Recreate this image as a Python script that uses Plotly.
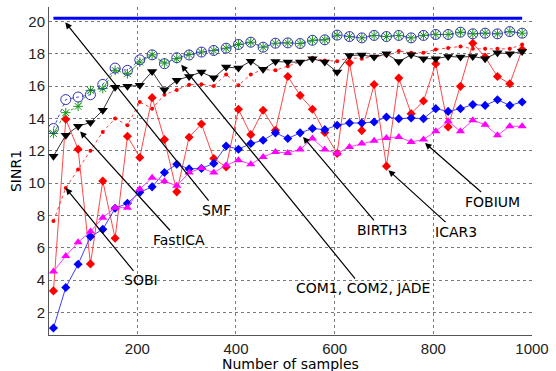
import plotly.graph_objects as go

# ---- data ----
samples = [30 + 25 * k for k in range(39)]

smf = [20.2] * 39

com_circles = [13.38, 15.17, 15.33, 15.47, 16.11, 17.12, 16.98, 17.63, 17.94, 17.39,
               17.76, 17.93, 18.11, 18.21, 18.35, 18.58, 18.72, 18.41, 18.66, 18.68,
               18.64, 18.84, 18.87, 19.16, 19.07, 18.99, 19.14, 19.07, 19.14, 18.99,
               19.14, 19.20, 19.20, 19.34, 19.24, 19.28, 19.24, 19.38, 19.28]

com_stars = [13.07, 14.36, 14.75, 15.74, 15.85, 16.98, 16.77, 17.49, 17.94, 17.43,
             17.70, 17.96, 18.11, 18.21, 18.35, 18.58, 18.72, 18.41, 18.66, 18.68,
             18.64, 18.84, 18.87, 19.16, 19.07, 18.99, 19.14, 19.07, 19.14, 18.99,
             19.14, 19.20, 19.20, 19.34, 19.24, 19.28, 19.24, 19.38, 19.28]

fastica = [11.67, 12.96, 13.52, 13.75, 14.51, 15.94, 15.99, 16.05, 16.91, 15.78,
           16.36, 16.60, 16.87, 16.52, 17.18, 17.12, 17.55, 17.04, 17.53, 17.49,
           17.49, 17.70, 17.49, 16.87, 17.90, 17.93, 17.80, 18.00, 17.53, 17.94,
           17.70, 17.70, 17.84, 17.80, 17.84, 17.70, 18.07, 18.00, 18.15]

sobi = [7.65, 9.70, 10.85, 12.00, 13.17, 14.00, 13.58, 15.02, 14.61, 15.47,
        15.77, 16.09, 16.12, 16.01, 16.73, 16.05, 16.73, 17.04, 16.98, 17.24,
        17.49, 17.76, 17.59, 17.55, 17.76, 17.70, 17.84, 17.90, 18.17, 18.07,
        18.07, 18.27, 18.37, 18.46, 18.31, 18.31, 18.31, 18.31, 18.58]

icar3 = [3.33, 13.95, 12.10, 5.00, 10.13, 6.59, 12.90, 11.59, 15.29, 12.70,
         9.46, 12.84, 13.66, 11.52, 11.00, 14.57, 13.00, 14.51, 13.27, 16.60,
         15.43, 14.57, 13.13, 11.83, 17.45, 13.25, 16.10, 11.05, 16.50, 14.30,
         15.08, 17.39, 13.48, 15.99, 18.66, 17.80, 16.60, 16.15, 18.27]

birth3 = [1.03, 3.54, 4.98, 6.69, 7.14, 8.44, 8.75, 9.43, 9.77, 10.66,
          11.17, 10.88, 10.91, 11.22, 12.30, 12.10, 12.45, 12.65, 13.11, 12.76,
          13.11, 13.38, 13.31, 13.58, 13.72, 13.72, 13.78, 14.09, 13.99, 14.03,
          13.99, 14.61, 14.44, 14.61, 14.86, 14.81, 15.16, 14.81, 15.02]

fobium = [4.53, 5.49, 6.34, 7.00, 7.86, 8.48, 8.48, 9.63, 10.33, 10.12,
          9.83, 10.65, 10.93, 10.65, 11.11, 11.42, 11.17, 11.62, 11.93, 11.87,
          12.08, 12.76, 12.08, 11.83, 12.24, 12.45, 12.62, 12.80, 12.86, 12.55,
          12.70, 13.21, 13.83, 13.21, 13.89, 13.62, 12.96, 13.52, 13.52]

x_ticks = [200, 400, 600, 800, 1000]
y_ticks = [2, 4, 6, 8, 10, 12, 14, 16, 18, 20]

# label text, label position, arrow head position (data units)
labels = [
    ("SMF", 360, 8.33, 54, 19.95),
    ("FastICA", 284, 6.48, 84, 13.2),
    ("SOBI", 208, 3.98, 55, 9.7),
    ("COM1, COM2, JADE", 657, 3.5, 289, 17.33),
    ("BIRTH3", 696, 7.1, 536, 12.86),
    ("ICAR3", 846, 7.0, 709, 10.8),
    ("FOBIUM", 919, 8.86, 783, 12.49),
]

fig = go.Figure()

fig.add_trace(go.Scatter(x=samples, y=sobi, mode="lines+markers",
                         line=dict(color="#ff4040", width=1, dash="dot"),
                         marker=dict(color="red", size=4, symbol="circle")))
fig.add_trace(go.Scatter(x=samples, y=icar3, mode="lines+markers",
                         line=dict(color="#ff4848", width=1),
                         marker=dict(color="red", size=7, symbol="diamond")))
fig.add_trace(go.Scatter(x=samples, y=birth3, mode="lines+markers",
                         line=dict(color="#4040ff", width=1),
                         marker=dict(color="blue", size=7, symbol="diamond")))
fig.add_trace(go.Scatter(x=samples, y=fobium, mode="lines+markers",
                         line=dict(color="#ff40ff", width=1),
                         marker=dict(color="magenta", size=8, symbol="triangle-up")))
fig.add_trace(go.Scatter(x=samples, y=fastica, mode="lines+markers",
                         line=dict(color="#333333", width=1),
                         marker=dict(color="black", size=9, symbol="triangle-down")))
fig.add_trace(go.Scatter(x=samples, y=com_stars, mode="lines+markers",
                         line=dict(color="#33aa33", width=1, dash="dashdot"),
                         marker=dict(color="#1a991a", size=8, symbol="asterisk-open",
                                     line=dict(width=1, color="#1a991a"))))
fig.add_trace(go.Scatter(x=samples, y=com_circles, mode="lines+markers",
                         line=dict(color="#5555cc", width=1, dash="dot"),
                         marker=dict(color="#3030b0", size=10, symbol="circle-open",
                                     line=dict(width=1))))
fig.add_trace(go.Scatter(x=samples, y=smf, mode="lines",
                         line=dict(color="#0000ff", width=3)))

for text, tx, ty, hx, hy in labels:
    fig.add_annotation(x=hx, y=hy, ax=tx, ay=ty, xref="x", yref="y",
                       axref="x", ayref="y", text=text, showarrow=True,
                       arrowhead=2, arrowsize=1.1, arrowwidth=1.2,
                       arrowcolor="black", standoff=0, startstandoff=0,
                       font=dict(family="DejaVu Sans", size=14, color="black"))

# axis titles
fig.add_annotation(x=0.5, y=-0.087, xref="paper", yref="paper", showarrow=False,
                   text="Number of samples", xanchor="center", yanchor="middle",
                   font=dict(family="DejaVu Sans", size=14, color="black"))

axis_common = dict(showgrid=True, gridcolor="#7a7a7a", griddash="dot", gridwidth=1,
                   showline=True, linecolor="#555555", linewidth=1, zeroline=False,
                   ticks="", tickfont=dict(family="Liberation Sans", size=15, color="#222"),
                   automargin=False)

fig.update_layout(
    width=556, height=371,
    margin=dict(l=49, r=24, t=7, b=36),
    paper_bgcolor="white", plot_bgcolor="white",
    showlegend=False,
    xaxis=dict(range=[21, 1000], tickvals=x_ticks, **axis_common),
    yaxis=dict(range=[0.6, 20.9], tickvals=y_ticks,
               title=dict(text="SINR1", standoff=3,
                          font=dict(family="DejaVu Sans", size=14, color="black")),
               **axis_common),
)

fig.write_html("out.html")
